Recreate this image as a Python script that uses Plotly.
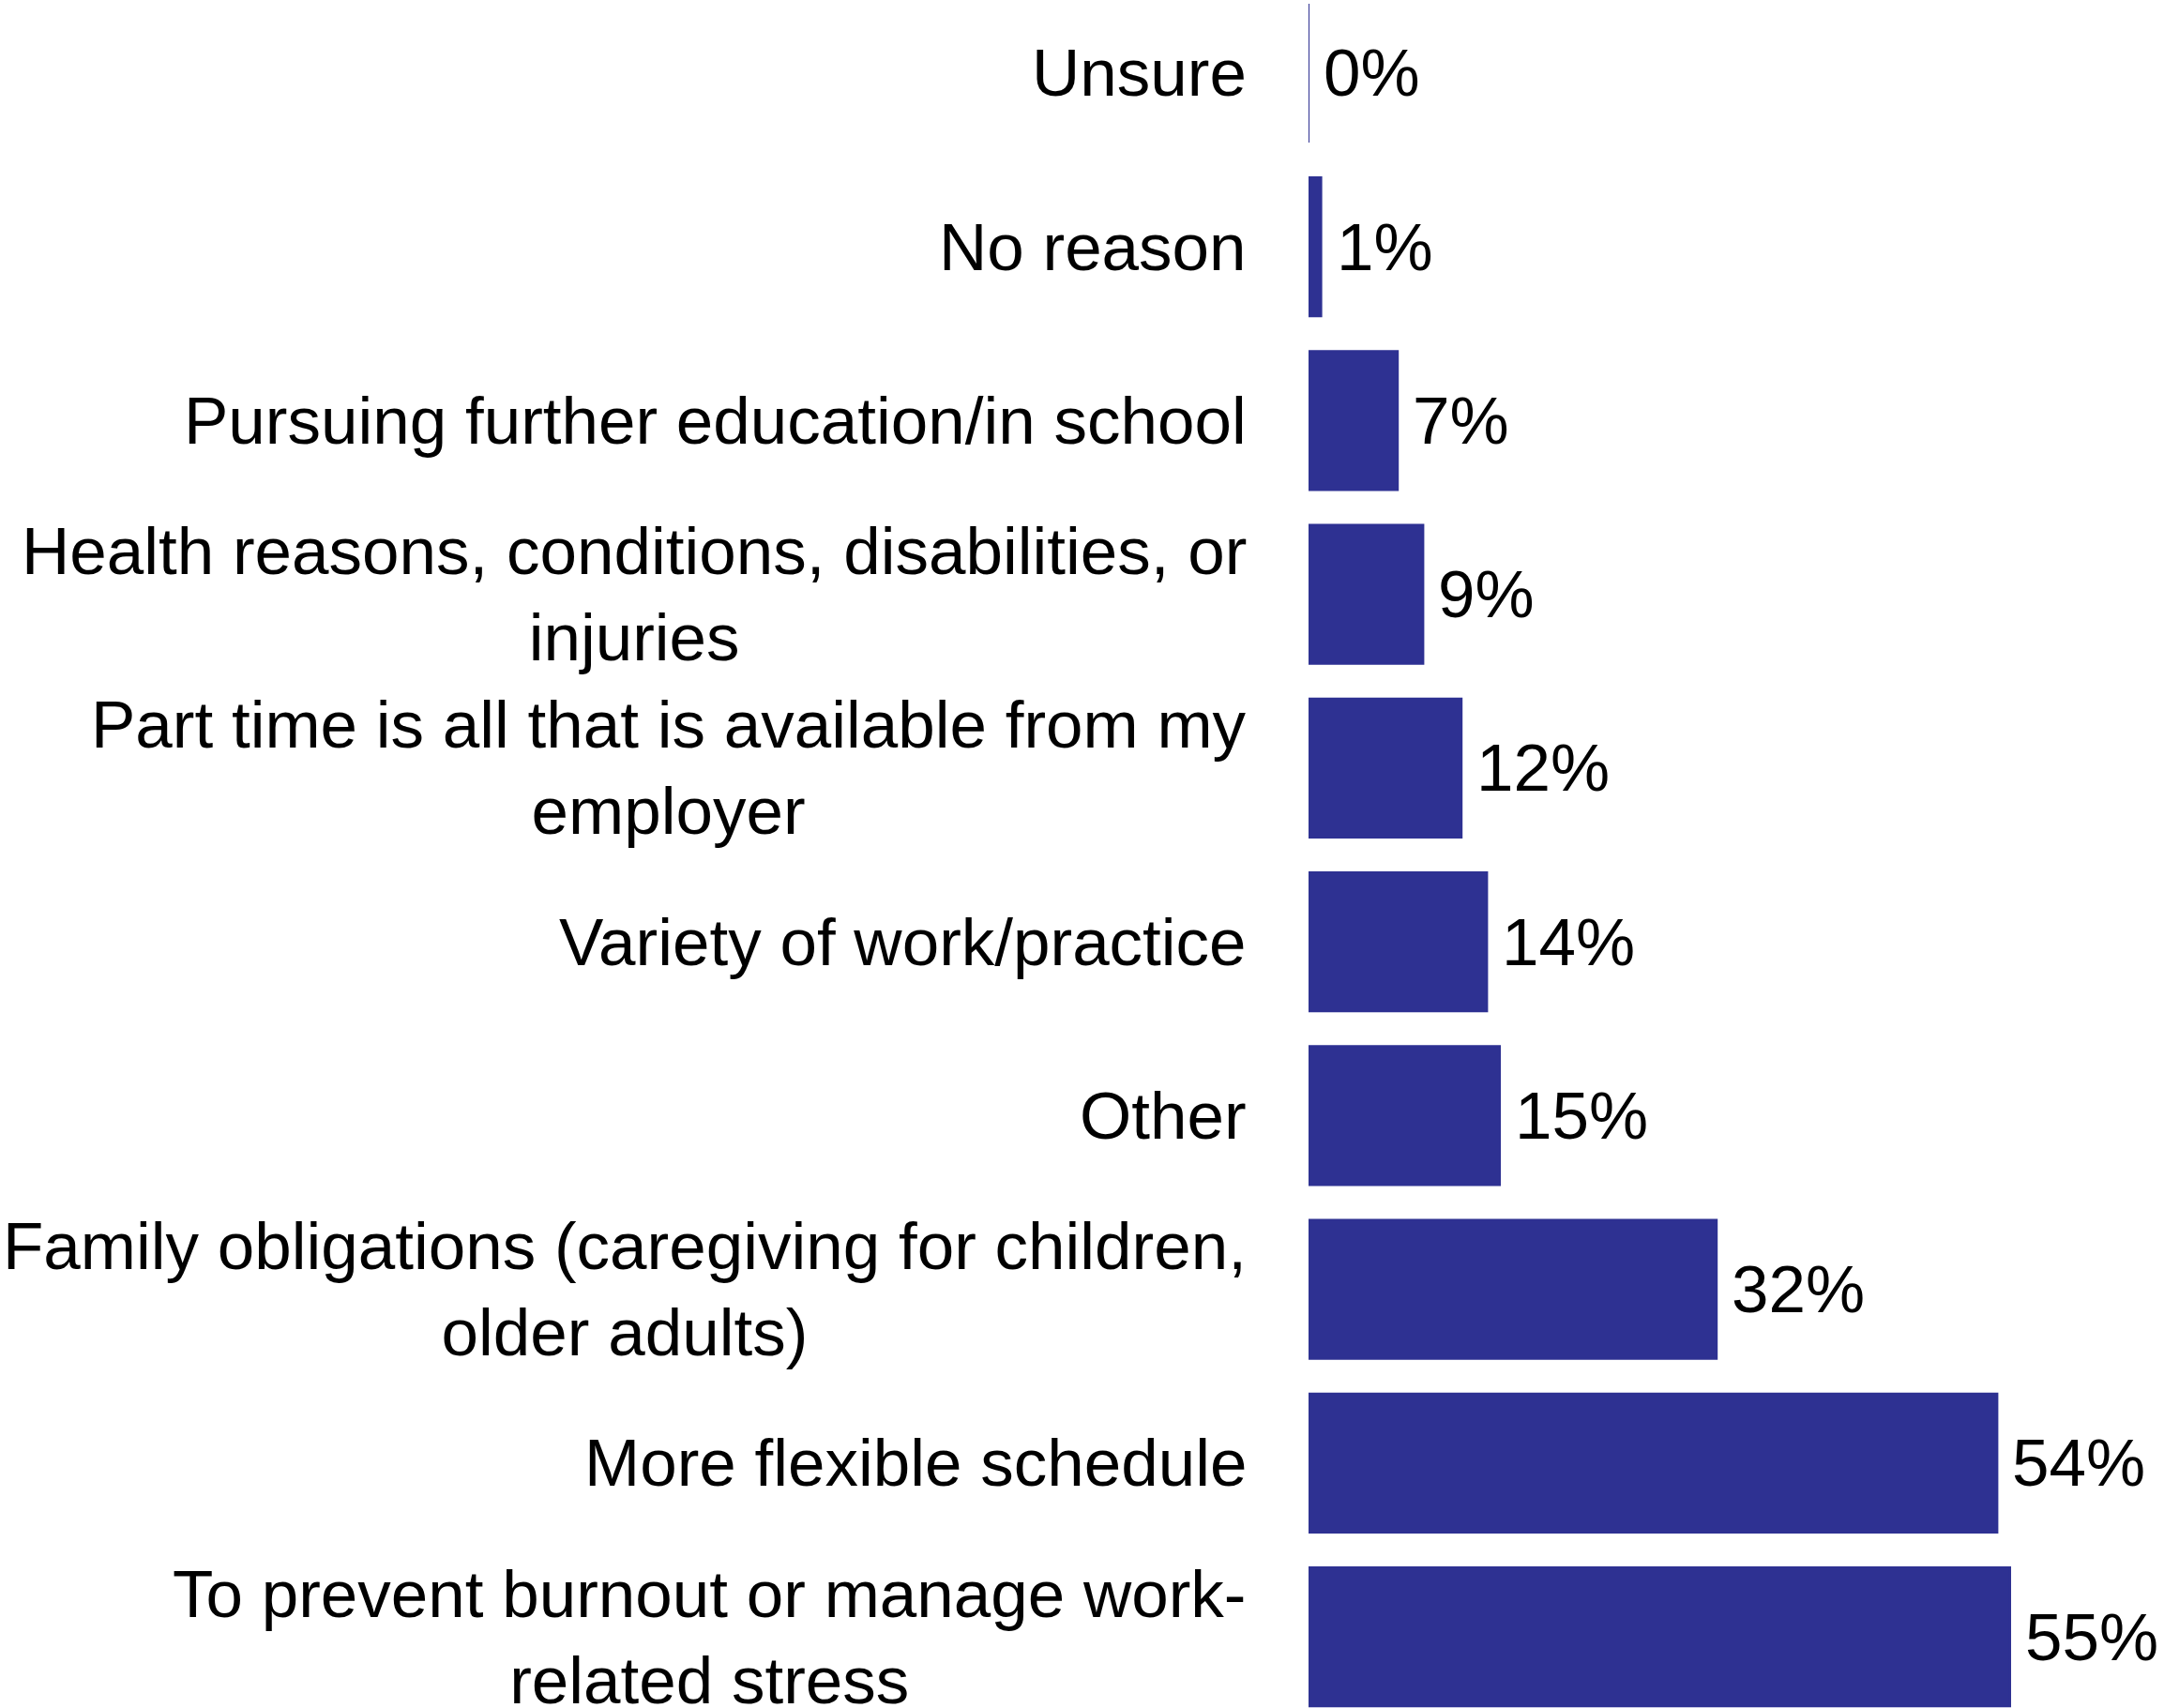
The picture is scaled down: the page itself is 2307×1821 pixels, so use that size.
import plotly.graph_objects as go

# Reasons for working part time, listed top to bottom
reasons = [
    "Unsure",
    "No reason",
    "Pursuing further education/in school",
    "Health reasons, conditions, disabilities, or<br>injuries",
    "Part time is all that is available from my<br>employer",
    "Variety of work/practice",
    "Other",
    "Family obligations (caregiving for children,<br>older adults)",
    "More flexible schedule",
    "To prevent burnout or manage work-<br>related stress",
]
shares = [0, 1, 7, 9, 12, 14, 15, 32, 54, 55]

BAR_COLOR = "#2E3192"
FONT = "Liberation Sans, Arial, sans-serif"
FONT_SIZE = 71

idx = list(range(len(reasons)))

fig = go.Figure(
    go.Bar(
        x=shares,
        y=idx,
        orientation="h",
        marker=dict(color=BAR_COLOR, line=dict(color=BAR_COLOR, width=2)),
        hoverinfo="skip",
    )
)

annotations = []
# category labels, right-aligned beside the axis, multi-line centered
for i, name in zip(idx, reasons):
    annotations.append(dict(
        x=0, xref="paper", y=i, yref="y",
        text=name, showarrow=False,
        xanchor="right", yanchor="middle", align="center",
        xshift=-64,
        font=dict(family=FONT, size=FONT_SIZE, color="#000000"),
    ))
# value labels at the end of each bar
for i, v in zip(idx, shares):
    annotations.append(dict(
        x=v, xref="x", y=i, yref="y",
        text=f"{v}%", showarrow=False,
        xanchor="left", yanchor="middle",
        xshift=14,
        font=dict(family=FONT, size=FONT_SIZE, color="#000000"),
    ))

fig.update_layout(
    width=2307, height=1821,
    margin=dict(l=1395, r=0, t=0, b=0),
    paper_bgcolor="white", plot_bgcolor="white",
    bargap=0.2,
    showlegend=False,
    annotations=annotations,
    xaxis=dict(range=[0, 67.06], visible=False, fixedrange=True),
    yaxis=dict(range=[9.41, -0.421], visible=False, fixedrange=True),
)

fig.write_html("out.html", config={"displayModeBar": False})
